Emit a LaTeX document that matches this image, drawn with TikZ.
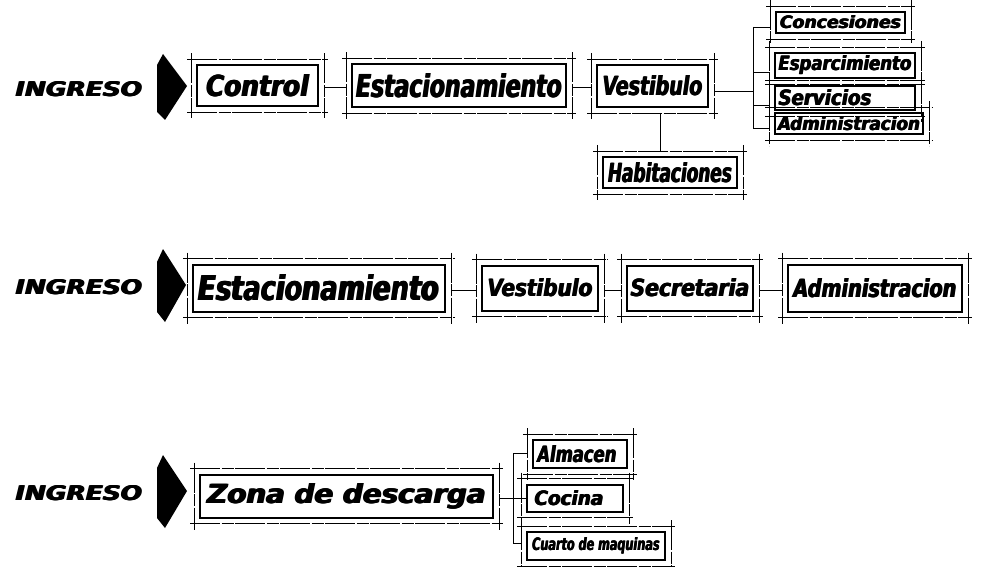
\documentclass[tikz,border=0pt]{standalone}
\usepackage{fontspec}
\setmainfont{DejaVu Sans}
\usepackage{graphicx}
\usetikzlibrary{calc}
\newcommand\fat[1]{\rlap{#1}\rlap{\kern.03em#1}\kern.06em#1}
\newcommand\lbl[3]{\resizebox{#1pt}{#2pt}{\bfseries\itshape\fat{#3}}}
\newcommand\cons[1]{%
 \draw[consl] ([xshift=-9pt,yshift=5pt]#1.north west) -- ([xshift=9pt,yshift=5pt]#1.north east);
 \draw[consl] ([xshift=-9pt,yshift=-5pt]#1.south west) -- ([xshift=9pt,yshift=-5pt]#1.south east);
 \draw[consl] ([xshift=-5pt,yshift=11pt]#1.north west) -- ([xshift=-5pt,yshift=-11pt]#1.south west);
 \draw[consl] ([xshift=5pt,yshift=11pt]#1.north east) -- ([xshift=5pt,yshift=-11pt]#1.south east);}
\begin{document}
\begin{tikzpicture}[x=1pt,y=-1pt,
  bx/.style={draw, line width=2pt, inner sep=0pt},
  link/.style={line width=0.9pt, shorten <=5pt, shorten >=5pt},
  conn/.style={line width=0.9pt},
  consl/.style={line width=0.55pt, dash pattern=on 30pt off 1.5pt on 12pt off 1.5pt},
  txt/.style={inner sep=0pt}]
\useasboundingbox (0,0) rectangle (985,567);

% ---------- Row 1 ----------
\node[txt] (ing1) at (79,89) {\lbl{128}{15}{INGRESO}};
\fill (157,65) -- (163,54) -- (187,86) -- (165,120) -- (157,112) -- cycle;
\node[bx, minimum width=121pt, minimum height=41pt] (ctrl) at (257.5,86) {\lbl{104}{22}{Control}};
\node[bx, minimum width=214pt, minimum height=43pt] (est1) at (459,86) {\lbl{207}{24}{Estacionamiento}};
\node[bx, minimum width=111pt, minimum height=42pt] (vest1) at (652.5,86) {\lbl{101}{20}{Vestibulo}};
\node[bx, minimum width=134pt, minimum height=31pt] (hab) at (670,172.5) {\lbl{125}{20}{Habitaciones}};
\node[bx, minimum width=129pt, minimum height=21pt] (con) at (840.5,22.5) {\lbl{122}{13}{Concesiones}};
\node[bx, minimum width=140pt, minimum height=25pt] (esp) at (845,65.5) {\lbl{134}{15}{Esparcimiento}};
\node[bx, minimum width=140pt, minimum height=24pt] (ser) at (845,98) {\lbl{94}{16}{Servicios}\kern40pt};
\node[bx, minimum width=148pt, minimum height=21pt] (adm1) at (849,123.5) {\lbl{143}{14}{Administracion}};
\foreach \n in {ctrl,est1,vest1,hab,con,esp,ser,adm1} {\cons{\n}}

\draw[link] ([yshift=-1pt]ctrl.east) -- ([yshift=-1pt]est1.west);
\draw[link] ([yshift=-1pt]est1.east) -- ([yshift=-1pt]vest1.west);
\draw[link] ([xshift=7.5pt]vest1.south) -- ([xshift=-10pt]hab.north);
\coordinate (b1m) at (753,91);
\coordinate (b1a) at (753,27);
\coordinate (b1e) at (753,72);
\coordinate (b1s) at (753,105);
\coordinate (b1d) at (753,128);
\draw[conn, shorten <=5pt] (vest1.east |- b1m) -- (b1m);
\draw[conn] (b1a) -- (b1d);
\draw[conn, shorten >=4pt] (b1a) -- (con.west |- b1a);
\draw[conn, shorten >=4pt] (b1e) -- (esp.west |- b1e);
\draw[conn, shorten >=4pt] (b1s) -- (ser.west |- b1s);
\draw[conn, shorten >=4pt] (b1d) -- (adm1.west |- b1d);

% ---------- Row 2 ----------
\node[txt] (ing2) at (79,287) {\lbl{128}{15}{INGRESO}};
\fill (157,262) -- (163,249) -- (186,285) -- (165,322) -- (157,312) -- cycle;
\node[bx, minimum width=252pt, minimum height=47pt] (est2) at (319,288) {\lbl{242}{26}{Estacionamiento}};
\node[bx, minimum width=116pt, minimum height=45pt] (vest2) at (540,288) {\lbl{106}{18}{Vestibulo}};
\node[bx, minimum width=126pt, minimum height=45pt] (sec) at (690,288) {\lbl{120}{18}{Secretaria}};
\node[bx, minimum width=174pt, minimum height=47pt] (adm2) at (875,288) {\lbl{164}{19}{Administracion}};
\foreach \n in {est2,vest2,sec,adm2} {\cons{\n}}
\draw[link] ([yshift=-2pt]est2.east) -- ([yshift=-2pt]vest2.west);
\draw[link] ([yshift=-2pt]vest2.east) -- ([yshift=-2pt]sec.west);
\draw[link] ([yshift=-2pt]sec.east) -- ([yshift=-2pt]adm2.west);

% ---------- Row 3 ----------
\node[txt] (ing3) at (79,493) {\lbl{128}{15}{INGRESO}};
\fill (157,468) -- (163,455) -- (187,491) -- (165,528) -- (157,518) -- cycle;
\node[bx, minimum width=293pt, minimum height=43pt] (zona) at (346.5,496) {\lbl{280}{20}{Zona de descarga}};
\node[bx, minimum width=94pt, minimum height=28pt] (alm) at (580,454) {\lbl{80}{17}{Almacen}\kern6pt};
\node[bx, minimum width=96pt, minimum height=27pt] (coc) at (575,498) {\lbl{70}{15}{Cocina}\kern12pt};
\node[bx, minimum width=138pt, minimum height=28pt] (cua) at (596,546) {\lbl{128}{13}{Cuarto de maquinas}};
\foreach \n in {zona,alm,coc,cua} {\cons{\n}}
\coordinate (b3t) at (513,453);
\coordinate (b3b) at (513,543);
\draw[conn, shorten <=5pt] (zona.east |- coc.west) -- (coc.west);
\draw[conn] (b3t) -- (b3b);
\draw[conn, shorten >=4pt] (b3t) -- (alm.west |- b3t);
\draw[conn, shorten >=4pt] (b3b) -- (cua.west |- b3b);
\end{tikzpicture}
\end{document}
